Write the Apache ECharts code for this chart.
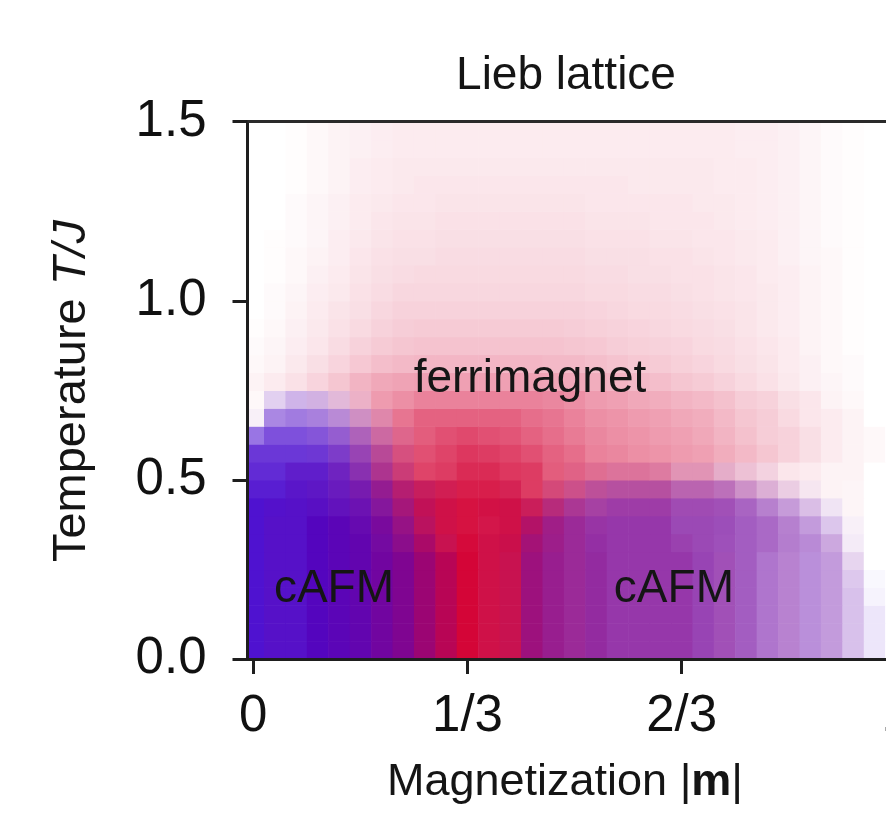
<!DOCTYPE html>
<html>
<head>
<meta charset="utf-8">
<script src="https://cdn.jsdelivr.net/npm/echarts@6/dist/echarts.min.js"></script>
<style>
html,body{margin:0;padding:0;background:#fff}
#c{width:886px;height:815px}
</style>
</head>
<body>
<div id="c"></div>
<script>
// ---- data ----
// cell centres: magnetization |m| (columns) and temperature T/J (rows)
const xCols = [0, .0333, .0667, .1, .1333, .1667, .2, .2333, .2667, .3, .3333, .3667, .4, .4333, .4667, .5,
               .5333, .5667, .6, .6333, .6667, .7, .7333, .7667, .8, .8333, .8667, .9, .9333, .9667, 1, 1.0333];
const yRows = [0.025, 0.075, 0.125, 0.175, 0.225, 0.275, 0.325, 0.375, 0.425, 0.475, 0.525, 0.575, 0.625, 0.675, 0.725,
               0.775, 0.825, 0.875, 0.925, 0.975, 1.025, 1.075, 1.125, 1.175, 1.225, 1.275, 1.325, 1.375, 1.425, 1.475];
const xTickValues = [0, 1/3, 2/3, 1];
const xTickLabels = ['0', '1/3', '2/3', '1'];

// ferrimagnetic weight (percent), one row per temperature, lowest T first
const ferri = [
 [0,5,5,10,15,20,30,40,60,80,100,90,85,55,45,40,35,30,30,30,30,25,25,20,15,15,10,10,5,0,0,0],
 [0,5,5,10,15,20,30,40,60,80,100,90,85,55,45,40,35,30,30,30,30,25,25,20,15,15,10,10,5,0,0,0],
 [0,5,5,10,15,20,30,40,60,80,100,90,85,55,45,40,35,30,30,30,30,25,25,20,15,15,10,10,5,0,0,0],
 [0,5,5,10,15,20,30,40,60,80,100,90,85,55,45,40,35,30,30,30,30,25,25,20,15,15,10,10,5,0,0,0],
 [0,5,5,10,15,20,30,40,60,80,100,90,85,55,45,40,35,30,30,30,30,25,25,20,15,15,10,10,5,0,0,0],
 [0,5,5,10,15,20,30,40,60,80,100,90,85,55,45,40,35,30,30,30,30,25,25,20,15,15,10,10,5,0,0,0],
 [0,5,5,10,15,20,30,45,68,85,98,90,88,60,48,40,33,30,30,30,28,25,23,20,18,15,12,10,3,0,0,0],
 [0,5,5,10,15,20,33,50,75,90,95,90,90,70,50,40,33,30,30,30,25,25,23,20,18,15,10,5,3,0,0,0],
 [0,3,5,8,13,20,35,58,80,90,95,92,90,80,60,45,36,33,33,33,27,27,25,20,16,12,8,4,4,0,0,0],
 [0,0,5,8,13,23,43,65,78,85,90,90,85,78,65,55,45,40,40,40,32,32,27,22,17,12,7,5,4,0,0,0],
 [0,0,5,5,13,25,48,65,75,78,85,85,80,78,65,60,53,48,48,45,35,35,25,20,15,10,8,5,5,0,0,0],
 [0,0,0,2,10,25,45,62,70,75,80,78,75,70,63,58,50,48,45,43,40,38,33,28,23,18,13,8,5,3,0,0],
 [0,0,0,3,10,25,42,56,65,70,73,70,68,63,58,53,48,45,43,40,38,35,30,25,20,18,13,8,5,3,0,0],
 [3,3,3,6,12,25,40,55,63,63,63,63,63,58,55,50,45,43,40,38,35,33,28,23,20,15,10,8,5,0,0,0],
 [3,4,5,9,16,27,40,45,50,50,50,50,50,50,48,45,40,38,35,33,30,28,25,20,18,13,10,5,3,0,0,0],
 [5,8,12,17,23,30,35,37,38,38,38,38,38,37,36,35,33,30,28,26,23,21,18,15,12,9,6,4,2,0,0,0],
 [3,5,9,13,17,22,26,28,29,29,29,29,29,29,28,28,26,24,22,21,19,17,15,13,11,8,6,3,2,0,0,0],
 [2,4,7,10,14,18,21,23,24,24,24,24,24,24,24,23,22,20,19,18,17,15,14,12,10,8,5,3,1,0,0,0],
 [1,3,6,9,12,15,18,20,21,21,21,21,21,21,21,20,19,18,17,16,15,14,13,11,9,7,5,3,1,0,0,0],
 [0,2,5,8,11,13,16,18,18,18,18,18,18,18,18,18,17,16,15,15,14,13,12,11,9,7,5,3,1,0,0,0],
 [0,2,4,7,9,12,14,16,16,16,16,16,16,16,16,16,15,15,14,14,13,12,11,10,9,7,5,3,1,0,0,0],
 [0,1,3,6,8,11,13,14,15,15,15,15,15,15,15,15,14,14,13,13,12,12,11,10,8,7,5,3,1,0,0,0],
 [0,1,3,5,7,10,12,13,13,14,14,14,14,14,14,14,13,13,13,12,12,11,10,9,8,6,4,3,1,0,0,0],
 [0,1,2,4,7,9,11,12,12,13,13,13,13,13,13,13,12,12,12,11,11,10,10,9,8,6,4,2,1,0,0,0],
 [0,0,2,4,6,8,10,11,11,12,12,12,12,12,12,12,11,11,11,10,10,10,9,8,7,6,4,2,1,0,0,0],
 [0,0,2,4,6,8,9,10,10,11,11,11,11,11,11,11,10,10,10,10,10,9,9,8,7,6,4,2,1,0,0,0],
 [0,0,1,3,5,7,8,9,10,10,10,10,10,10,10,10,10,10,9,9,9,9,8,8,7,6,4,2,1,0,0,0],
 [0,0,1,3,5,7,8,9,9,9,9,9,9,9,9,9,9,9,9,9,9,9,8,8,7,6,4,2,1,0,0,0],
 [0,0,1,3,5,6,7,8,8,8,8,8,8,8,8,8,8,8,8,8,8,8,8,7,7,6,4,2,1,0,0,0],
 [0,0,1,3,5,6,7,8,8,8,8,8,8,8,8,8,8,8,8,8,8,8,8,7,7,6,4,2,1,0,0,0]
];

// cAFM weight (percent), lowest T first; rows above T = 0.75 are zero
const cafm = [
 [95,90,90,90,85,80,70,60,40,20,0,5,10,40,45,45,50,50,50,50,50,50,45,45,40,35,35,30,20,10,0,0],
 [95,90,90,90,85,80,70,60,40,20,0,5,10,40,45,45,50,50,50,50,50,50,45,45,40,35,35,30,20,10,0,0],
 [95,90,90,90,85,80,70,60,40,20,0,5,10,40,45,45,50,50,50,50,50,50,45,45,40,35,35,30,20,10,0,0],
 [95,90,90,90,85,80,70,60,40,20,0,5,10,40,45,45,50,50,50,50,50,50,45,45,40,35,35,30,20,5,0,0],
 [95,90,90,90,85,80,70,60,40,20,0,5,10,40,45,45,50,50,50,50,50,50,45,45,40,35,35,30,17,3,0,0],
 [95,90,90,90,85,80,70,60,40,20,0,5,10,40,45,45,50,50,50,50,50,50,45,45,40,35,35,30,12,0,0,0],
 [95,90,90,90,85,80,68,52,30,10,0,5,8,35,42,45,50,50,50,50,48,48,47,45,42,37,35,25,5,0,0,0],
 [95,90,90,90,85,78,65,45,20,5,0,3,5,25,40,45,48,50,50,50,48,48,48,45,42,36,30,18,3,0,0,0],
 [95,92,90,88,82,75,58,35,15,5,0,3,5,10,25,35,40,45,45,45,45,45,45,42,35,28,18,7,0,0,0,0],
 [90,90,88,85,78,68,48,25,12,5,0,0,3,0,8,15,25,30,30,30,30,30,30,22,15,8,3,0,0,0,0,0],
 [85,85,85,85,75,58,33,13,0,0,0,0,0,0,0,3,5,8,8,8,8,8,8,5,3,0,0,0,0,0,0,0],
 [80,80,80,78,68,50,28,8,0,0,0,0,0,0,0,0,0,0,0,0,0,0,0,0,0,0,0,0,0,0,0,0],
 [55,70,70,65,55,38,18,5,0,0,0,0,0,0,0,0,0,0,0,0,0,0,0,0,0,0,0,0,0,0,0,0],
 [3,45,50,45,35,20,8,0,0,0,0,0,0,0,0,0,0,0,0,0,0,0,0,0,0,0,0,0,0,0,0,0],
 [0,15,25,22,12,4,0,0,0,0,0,0,0,0,0,0,0,0,0,0,0,0,0,0,0,0,0,0,0,0,0,0]
];

const phaseNames = ['ferrimagnet', 'cAFM', 'cAFM'];
const phaseM = [0.4306, 0.1256, 0.6546];
const phaseT = [0.782, 0.195, 0.195];

// ---- styles ----
const CELL_W = 1 / 30, CELL_H = 0.05;
const RED = [212, 5, 55], BLUE = [70, 5, 205];
const FONT = '"Liberation Sans", Arial, Helvetica, sans-serif';
const INK = '#151515';
const AXIS = '#1e1e1e';

function phaseColor(F, A) {
  let s = F + A;
  if (s > 1) { F /= s; A /= s; s = 1; }
  const w = 1 - s;
  const c = [0, 1, 2].map(i => Math.round(w * 255 + F * RED[i] + A * BLUE[i]));
  return 'rgb(' + c.join(',') + ')';
}

const cells = [];
yRows.forEach((T, j) => {
  xCols.forEach((m, k) => {
    cells.push([m, T, ferri[j][k], cafm[j] ? cafm[j][k] : 0]);
  });
});

const chart = echarts.init(document.getElementById('c'), null, {renderer: 'canvas'});
const XMIN = -0.009, XMAX = 1.05;

chart.setOption({
  animation: false,
  backgroundColor: '#fff',
  grid: {left: 247.5, top: 121.7, width: 680.5, height: 537.3, containLabel: false, outerBoundsMode: 'none'},
  xAxis: [{
    type: 'value', min: XMIN, max: XMAX, z: 5,
    splitLine: {show: false},
    axisLine: {show: true, onZero: false, lineStyle: {color: AXIS, width: 3}},
    axisTick: {show: true, customValues: xTickValues, length: 15, lineStyle: {color: AXIS, width: 3}},
    axisLabel: {
      customValues: xTickValues, margin: 32, fontSize: 51, fontFamily: FONT, color: '#111',
      formatter: v => {
        const i = xTickValues.findIndex(t => Math.abs(t - v) < 1e-6);
        return i >= 0 ? xTickLabels[i] : '';
      }
    }
  }, {
    type: 'value', position: 'top', min: XMIN, max: XMAX, z: 5,
    splitLine: {show: false},
    axisLine: {show: true, onZero: false, lineStyle: {color: '#2a2a2a', width: 3}},
    axisTick: {show: false}, axisLabel: {show: false}
  }],
  yAxis: {
    type: 'value', min: 0, max: 1.5, interval: 0.5, z: 5,
    splitLine: {show: false},
    axisLine: {show: true, onZero: false, lineStyle: {color: AXIS, width: 3}},
    axisTick: {show: true, length: 15, lineStyle: {color: AXIS, width: 3}},
    axisLabel: {margin: 41, fontSize: 51, fontFamily: FONT, color: '#111', formatter: v => v.toFixed(1)}
  },
  graphic: [
    {type: 'text', x: 566, y: 76, z: 10,
     style: {text: 'Lieb lattice', font: '46px ' + FONT, fill: INK, align: 'center', verticalAlign: 'middle', textAlign: 'center', textVerticalAlign: 'middle'}},
    {type: 'text', x: 565, y: 783, z: 10,
     style: {text: 'Magnetization |{b|m}|', font: '45px ' + FONT, fill: INK, align: 'center', verticalAlign: 'middle', textAlign: 'center', textVerticalAlign: 'middle',
             rich: {b: {fontWeight: 'bold', fontSize: 45, fontFamily: FONT, fill: INK}}}},
    {type: 'text', x: 72, y: 391, rotation: Math.PI / 2, z: 10,
     style: {text: 'Temperature {i|T/J}', font: '47px ' + FONT, fill: INK, align: 'center', verticalAlign: 'middle', textAlign: 'center', textVerticalAlign: 'middle',
             rich: {i: {fontStyle: 'italic', fontSize: 47, fontFamily: FONT, fill: INK}}}}
  ],
  series: [{
    type: 'custom',
    coordinateSystem: 'cartesian2d',
    encode: {x: 0, y: 1},
    silent: true,
    data: cells,
    renderItem: function (params, api) {
      const m = api.value(0), T = api.value(1);
      const F = api.value(2) / 100, A = api.value(3) / 100;
      const a = api.coord([m - CELL_W / 2, T + CELL_H / 2]);
      const b = api.coord([m + CELL_W / 2, T - CELL_H / 2]);
      const cs = params.coordSys;
      const x0 = Math.max(a[0], cs.x), x1 = Math.min(b[0], cs.x + cs.width);
      const y0 = Math.max(a[1], cs.y), y1 = Math.min(b[1], cs.y + cs.height);
      if (x1 <= x0 || y1 <= y0) return null;
      return {
        type: 'rect',
        shape: {x: x0, y: y0, width: x1 - x0 + 0.6, height: y1 - y0 + 0.6},
        style: {fill: phaseColor(F, A)}
      };
    }
  }, {
    type: 'scatter',
    silent: true,
    z: 6,
    symbolSize: 1,
    itemStyle: {color: 'rgba(0,0,0,0)', opacity: 1},
    label: {show: true, position: 'inside', formatter: p => p.name, fontSize: 46, fontFamily: FONT, color: INK, opacity: 1},
    emphasis: {disabled: true},
    data: phaseNames.map((n, i) => ({name: n, value: [phaseM[i], phaseT[i]]}))
  }]
});
</script>
</body>
</html>
